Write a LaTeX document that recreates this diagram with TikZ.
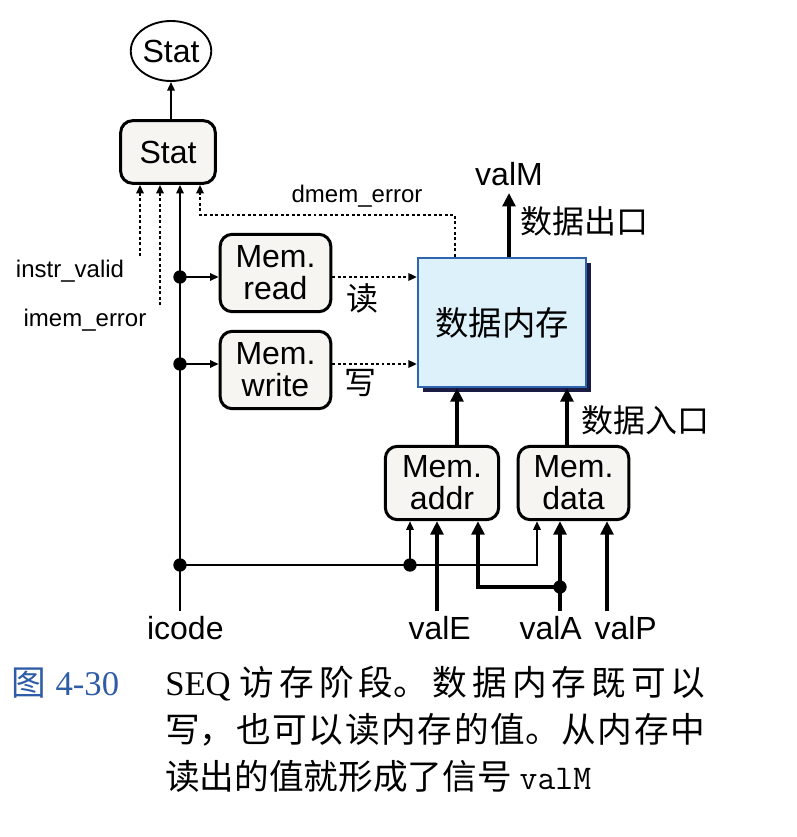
\documentclass[tikz,border=0pt]{standalone}
\usepackage{fontspec}
\setmainfont{Liberation Sans}
\newfontfamily\cjk{Noto Sans CJK SC}
\newfontfamily\capserif{Liberation Serif}
\usetikzlibrary{positioning,shapes.geometric,shadows,arrows.meta}

\definecolor{boxfill}{HTML}{F6F5F1}
\definecolor{memfill}{HTML}{DDF1FB}
\definecolor{memline}{HTML}{2F64B0}
\definecolor{memshadow}{HTML}{1A1C44}
\definecolor{capblue}{HTML}{2E5CA6}

\begin{document}
\begin{tikzpicture}[x=0.75pt,y=-0.75pt,
  sig/.style={line width=1.5pt,-{Triangle[length=6.5pt,width=5.5pt]}},
  bus/.style={line width=3.6pt,-{Triangle[length=10pt,width=9.5pt]}},
  ctl/.style={line width=2.2pt,dash pattern=on 2.2pt off 1.9pt,-{Triangle[length=6.5pt,width=5.5pt]}},
  ]
  \useasboundingbox (0,0) rectangle (796,837);
  \node[draw,ellipse,line width=1.4pt,minimum width=60pt,minimum height=45pt,
    font=\fontsize{24}{24}\selectfont,inner sep=0pt] (statOut) at (171,51) {Stat};
  \begin{scope}[every node/.style={draw,line width=2.25pt,rounded corners=9pt,
      fill=boxfill,align=center,inner sep=0pt,font=\fontsize{24}{24}\selectfont},
    memBox/.style={minimum width=83pt,minimum height=58pt},
    ]
    \node[minimum width=71pt,minimum height=47pt] (statReg) at (168,152) {Stat};
    \node[memBox] (memRead) at (275.5,273) {Mem.\\read};
    \node[memBox] (memWrite) at (275.5,370) {Mem.\\write};
    \node[memBox,minimum width=85pt,minimum height=55pt] (memAddr) at (442,483) {Mem.\\addr};
    \node[memBox,minimum height=55pt] (memData) at (573.5,483) {Mem.\\data};
  \end{scope}
  \node[draw=memline,line width=1.5pt,fill=memfill,minimum width=126pt,minimum height=97pt,
    drop shadow={shadow xshift=3.8pt,shadow yshift=-3.8pt,fill=memshadow,opacity=1},
    font=\cjk\fontsize{25}{25}\selectfont] (dataMem) at (502,322.5) {数据内存};

  % junctions and loose ends
  \coordinate (jRead) at (180,277);
  \coordinate (jWrite) at (180,364);
  \coordinate (jCode) at (180,565);
  \coordinate (jAddr) at (410,565);
  \coordinate (jValA) at (560,587);
  \coordinate (ctlData) at (537,565);
  \coordinate (valABend) at (478,587);
  \coordinate (icodeIn) at (180,611);
  \coordinate (valEIn) at (437,611);
  \coordinate (valAIn) at (560,611);
  \coordinate (valPIn) at (607,611);
  \coordinate (instrIn) at (140,256);
  \coordinate (imemIn) at (160,305);
  \coordinate (dmemBend) at (455,215);
  \coordinate (dmemIn) at (200,215);
  \coordinate (valMOut) at (509,193);

  \draw[sig] (statReg.north -| statOut.south) -- (statOut.south);
  \draw[sig] (icodeIn) -- (icodeIn |- statReg.south);
  \draw[ctl] (instrIn) -- (instrIn |- statReg.south);
  \draw[ctl] (imemIn) -- (imemIn |- statReg.south);
  \draw[ctl] (dmemBend |- dataMem.north) -- (dmemBend) -- (dmemIn) -- (dmemIn |- statReg.south);
  \draw[sig] (jRead) -- (jRead -| memRead.west);
  \draw[sig] (jWrite) -- (jWrite -| memWrite.west);
  \draw[ctl] (jRead -| memRead.east) -- (jRead -| dataMem.west);
  \draw[ctl] (jWrite -| memWrite.east) -- (jWrite -| dataMem.west);
  \draw[bus] (valMOut |- dataMem.north) -- (valMOut);
  \draw[bus] ([xshift=11.25pt]memAddr.north) -- ([xshift=11.25pt]memAddr.north |- dataMem.south);
  \draw[bus] ([xshift=-4.9pt]memData.north) -- ([xshift=-4.9pt]memData.north |- dataMem.south);
  \draw[sig] (jCode) -- (ctlData) -- (ctlData |- memData.south);
  \draw[sig] (jAddr) -- (jAddr |- memAddr.south);
  \draw[bus] (valEIn) -- (valEIn |- memAddr.south);
  \draw[bus] (valAIn) -- (valAIn |- memData.south);
  \draw[bus] (valPIn) -- (valPIn |- memData.south);
  \draw[bus] (jValA) -- (valABend) -- (valABend |- memAddr.south);
  \foreach \j in {jRead,jWrite,jCode,jAddr,jValA}
    \fill (\j) circle (5pt);

  \begin{scope}[every node/.style={inner sep=0pt,font=\fontsize{24}{24}\selectfont}]
    \node[above=5pt of valMOut] (valMLabel) {valM};
    \node[below=4pt of icodeIn,xshift=4pt] (icodeLabel) {icode};
    \node[below=4pt of valEIn,xshift=2pt] (valELabel) {valE};
    \node[below=4pt of valAIn,xshift=-7pt] (valALabel) {valA};
    \node[below=4pt of valPIn,xshift=14pt] (valPLabel) {valP};
  \end{scope}
  \begin{scope}[every node/.style={inner sep=0pt,font=\fontsize{18}{18}\selectfont}]
    \node (dmemLabel) at (357,196) {dmem\_error};
    \node (instrLabel) at (70,271) {instr\_valid};
    \node (imemLabel) at (85,320) {imem\_error};
  \end{scope}
  \begin{scope}[every node/.style={inner sep=0pt,font=\cjk\fontsize{24}{24}\selectfont}]
    \node (outLabel) at (584,221) {数据出口};
    \node (inLabel) at (645,420) {数据入口};
    \node (readLabel) at (362,298) {读};
    \node (writeLabel) at (360,383) {写};
  \end{scope}

  % caption
  \node[anchor=west,inner sep=0pt,text=capblue,font=\fontsize{26}{26}\selectfont] (capNum)
    at (11,683) {{\cjk 图} \capserif 4-30};
  \node[anchor=north west,inner sep=0pt,text width=405pt,align=justify,
    font=\cjk\fontsize{26}{35.25}\selectfont] (capText) at (165,666)
    {\XeTeXlinebreaklocale "zh"\XeTeXlinebreakskip=0pt plus 10pt
     {\capserif SEQ} 访存阶段。数据内存既可以\linebreak
     写，也可以读内存的值。从内存中\linebreak
     读出的值就形成了信号 {\ttfamily valM}};
\end{tikzpicture}
\end{document}
